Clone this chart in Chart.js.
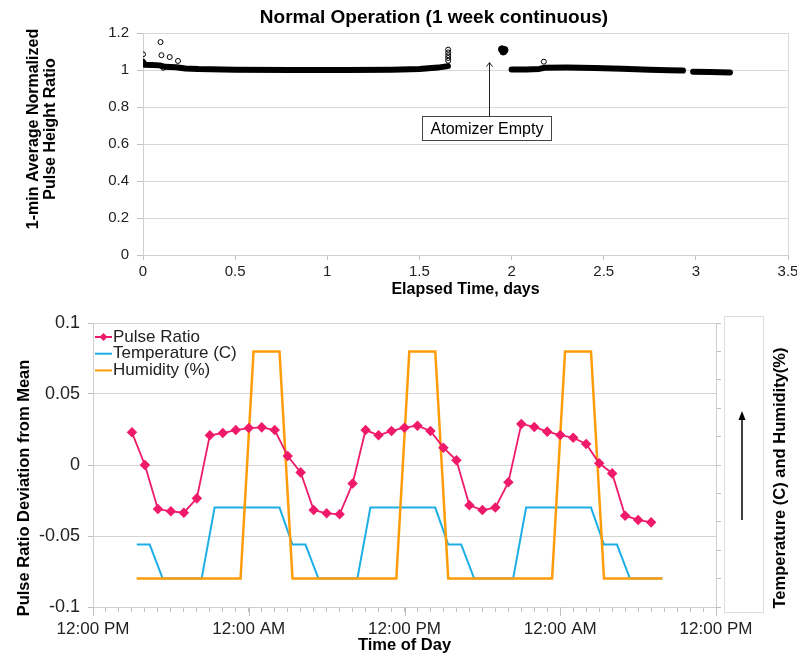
<!DOCTYPE html>
<html>
<head>
<meta charset="utf-8">
<script src="https://cdn.jsdelivr.net/npm/chart.js@4.4.0/dist/chart.umd.min.js"></script>
<style>
  body { margin: 0; background: #fff; }
  canvas { display: block; }
</style>
</head>
<body>
<canvas id="runChart" width="797" height="300"></canvas>
<canvas id="dayChart" width="797" height="354"></canvas>
<script>
Chart.defaults.font.family = '"Liberation Sans", Arial, sans-serif';
Chart.defaults.color = '#222';

// ---- top chart: 1-week run ----
const runDaysA = [0, 0.01, 0.05, 0.09, 0.12, 0.18, 0.23, 0.3, 0.5, 0.8, 1.1, 1.35, 1.5, 1.6, 1.655];
const runRatioA = [1.045, 1.028, 1.027, 1.025, 1.017, 1.015, 1.008, 1.005, 1.002, 1.0, 1.0, 1.002, 1.006, 1.013, 1.021];
const runDaysB = [2.0, 2.08, 2.15, 2.18, 2.3, 2.45, 2.6, 2.75, 2.85, 2.93];
const runRatioB = [1.003, 1.003, 1.006, 1.012, 1.013, 1.011, 1.007, 1.002, 0.999, 0.997];
const runDaysC = [2.985, 3.08, 3.185];
const runRatioC = [0.99, 0.989, 0.987];
const blobDays = [1.948, 1.955, 1.962];
const blobRatio = [1.112, 1.1, 1.108];
const outlierDays = [0.0, 0.095, 0.1, 0.11, 0.145, 0.19, 1.656, 1.656, 1.656, 1.656, 1.656, 2.175];
const outlierRatio = [1.085, 1.151, 1.08, 1.012, 1.07, 1.049, 1.05, 1.065, 1.08, 1.095, 1.11, 1.045];
const dayTicks = [0, 0.5, 1, 1.5, 2, 2.5, 3, 3.5];

// annotation "Atomizer Empty"
const emptyDay = 1.88;
const emptyTip = 1.04;
const emptyLabelAt = 0.68;

// ---- bottom chart: time of day ----
const pulseHours = [3, 4, 5, 6, 7, 8, 9, 10, 11, 12, 13, 14, 15, 16, 17, 18, 19, 20, 21, 22, 23,
  24, 25, 26, 27, 28, 29, 30, 31, 32, 33, 34, 35, 36, 37, 38, 39, 40, 41, 42, 43];
const pulseDev = [0.023, 0.0, -0.031, -0.0326, -0.0336, -0.0235, 0.0209, 0.0225, 0.0246, 0.026, 0.0265,
  0.0246, 0.0063, -0.0052, -0.0317, -0.034, -0.0347, -0.0131, 0.0246, 0.0209, 0.024,
  0.0263, 0.0277, 0.024, 0.0122, 0.0033, -0.0284, -0.0317, -0.030, -0.0122, 0.0289,
  0.0268, 0.0235, 0.0211, 0.0192, 0.0148, 0.0012, -0.0059, -0.0357, -0.0387, -0.0404];
const tempHours = [3.37, 4.37, 5.37, 8.37, 9.37, 14.37, 15.37, 16.37, 17.37, 20.37, 21.37,
  26.37, 27.37, 28.37, 29.37, 32.37, 33.37, 38.37, 39.37, 40.37, 41.37, 43.87];
const tempValues = [22, 22, 10, 10, 35, 35, 22, 22, 10, 10, 35, 35, 22, 22, 10, 10, 35, 35, 22, 22, 10, 10];
const humHours = [3.37, 11.37, 12.37, 14.37, 15.37, 23.37, 24.37, 26.37, 27.37, 35.37, 36.37, 38.37, 39.37, 43.87];
const humValues = [10, 10, 90, 90, 10, 10, 90, 90, 10, 10, 90, 90, 10, 10];
const majorHours = [0, 12, 24, 36, 48];

const PINK = '#ef1a6a';
const BLUE = '#1eaee6';
const ORANGE = '#ff9c0a';

const toXY = (xs, ys) => xs.map((x, i) => ({ x: x, y: ys[i] }));

function denseRun(xs, ys) {
    return {
        data: toXY(xs, ys),
        showLine: true,
        borderColor: '#000',
        borderWidth: 6,
        borderCapStyle: 'round',
        borderJoinStyle: 'round',
        pointRadius: 0
    };
}

function rotatedText(ctx, text, x, y, font) {
    ctx.save();
    ctx.translate(x, y);
    ctx.rotate(-Math.PI / 2);
    ctx.font = font;
    ctx.fillStyle = '#000';
    ctx.textAlign = 'center';
    ctx.textBaseline = 'middle';
    ctx.fillText(text, 0, 0);
    ctx.restore();
}

const runDecor = {
    id: 'runDecor',
    afterDraw(chart) {
        const ctx = chart.ctx;
        const xs = chart.scales.x, ys = chart.scales.y;

        ctx.save();
        ctx.fillStyle = '#000';
        ctx.font = 'bold 19px "Liberation Sans", Arial';
        ctx.textAlign = 'center';
        ctx.textBaseline = 'middle';
        ctx.fillText('Normal Operation (1 week continuous)', 434, 18);
        ctx.restore();

        rotatedText(ctx, '1-min Average Normalized', 34, 129, 'bold 16px "Liberation Sans", Arial');
        rotatedText(ctx, 'Pulse Height Ratio', 51, 129, 'bold 16px "Liberation Sans", Arial');

        // arrow + label box
        const ax = Math.round(xs.getPixelForValue(emptyDay)) + 0.5;
        const tipY = ys.getPixelForValue(emptyTip);
        const labY = ys.getPixelForValue(emptyLabelAt);
        ctx.save();
        ctx.font = '16px "Liberation Sans", Arial';
        const tw = ctx.measureText('Atomizer Empty').width;
        const bx = Math.round(ax - 3 - tw / 2 - 8) + 0.5;
        const bw = Math.round(tw + 16);
        const by = Math.round(labY - 13) + 0.5;
        ctx.fillStyle = '#fff';
        ctx.fillRect(bx, by, bw, 24);
        ctx.strokeStyle = '#444';
        ctx.lineWidth = 1;
        ctx.strokeRect(bx, by, bw, 24);
        ctx.fillStyle = '#000';
        ctx.textAlign = 'center';
        ctx.textBaseline = 'middle';
        ctx.fillText('Atomizer Empty', bx + bw / 2, by + 13);
        ctx.strokeStyle = '#222';
        ctx.beginPath();
        ctx.moveTo(ax, by);
        ctx.lineTo(ax, tipY);
        ctx.moveTo(ax - 3, tipY + 4);
        ctx.lineTo(ax, tipY);
        ctx.lineTo(ax + 3, tipY + 4);
        ctx.stroke();
        ctx.restore();
    }
};

new Chart(document.getElementById('runChart'), {
    type: 'scatter',
    data: {
        datasets: [
            denseRun(runDaysA, runRatioA),
            denseRun(runDaysB, runRatioB),
            denseRun(runDaysC, runRatioC),
            {
                data: toXY(blobDays, blobRatio),
                pointRadius: 3.5,
                backgroundColor: '#000',
                borderColor: '#000'
            },
            {
                data: toXY(outlierDays, outlierRatio),
                pointRadius: 2.5,
                borderWidth: 1,
                borderColor: '#000',
                backgroundColor: 'rgba(0,0,0,0)'
            }
        ]
    },
    options: {
        responsive: false,
        animation: false,
        layout: { padding: { top: 33, right: 9, left: 0, bottom: 0 } },
        plugins: { legend: { display: false }, tooltip: { enabled: false } },
        scales: {
            x: {
                type: 'linear',
                min: 0,
                max: 3.5,
                afterBuildTicks: (s) => { s.ticks = dayTicks.map(v => ({ value: v })); },
                ticks: { font: { size: 15 }, padding: 3, maxRotation: 0, callback: (v) => String(v) },
                grid: {
                    color: (c) => (c.tick && c.tick.value === 3.5 ? '#d9d9d9' : 'rgba(0,0,0,0)'),
                    tickColor: '#bfbfbf',
                    tickLength: 5
                },
                border: { color: '#cfcfcf' },
                title: {
                    display: true,
                    text: 'Elapsed Time, days',
                    color: '#000',
                    font: { size: 16, weight: 'bold', lineHeight: 1 },
                    padding: { top: 0, bottom: 2 }
                },
                afterFit: (s) => { s.height = 45; s.paddingLeft = 0; s.paddingRight = 0; }
            },
            y: {
                min: 0,
                max: 1.2,
                ticks: { stepSize: 0.2, font: { size: 15 }, padding: 8, callback: (v) => String(+v.toFixed(1)) },
                grid: { color: '#d9d9d9', tickColor: '#bfbfbf', tickLength: 6 },
                border: { color: '#cfcfcf' },
                afterFit: (s) => { s.width = 143; }
            }
        }
    },
    plugins: [runDecor]
});

const dayDecor = {
    id: 'dayDecor',
    afterDraw(chart) {
        const ctx = chart.ctx;
        const area = chart.chartArea;
        const xs = chart.scales.x;

        // longer tick marks at the labelled hours
        ctx.save();
        ctx.strokeStyle = '#bfbfbf';
        ctx.lineWidth = 1;
        ctx.beginPath();
        majorHours.forEach((h) => {
            const px = Math.round(xs.getPixelForValue(h)) + 0.5;
            ctx.moveTo(px, area.bottom);
            ctx.lineTo(px, area.bottom + 9);
        });
        ctx.stroke();
        ctx.restore();

        rotatedText(ctx, 'Pulse Ratio Deviation from Mean', 24, 188, 'bold 16.5px "Liberation Sans", Arial');

        // right box with arrow and secondary title
        ctx.save();
        ctx.fillStyle = '#fff';
        ctx.fillRect(724.5, 16.5, 39, 296);
        ctx.strokeStyle = '#dcdcdc';
        ctx.lineWidth = 1;
        ctx.strokeRect(724.5, 16.5, 39, 296);
        ctx.strokeStyle = '#000';
        ctx.lineWidth = 1.5;
        ctx.beginPath();
        ctx.moveTo(742, 220);
        ctx.lineTo(742, 118);
        ctx.stroke();
        ctx.fillStyle = '#000';
        ctx.beginPath();
        ctx.moveTo(742, 111);
        ctx.lineTo(738.5, 120);
        ctx.lineTo(745.5, 120);
        ctx.closePath();
        ctx.fill();
        ctx.restore();
        rotatedText(ctx, 'Temperature (C) and Humidity(%)', 780, 178, 'bold 16.5px "Liberation Sans", Arial');

        // legend in the top-left corner of the plot
        const order = [0, 2, 1];
        ctx.save();
        ctx.font = '17px "Liberation Sans", Arial';
        ctx.textBaseline = 'middle';
        order.forEach((di, row) => {
            const ds = chart.data.datasets[di];
            const y = area.top + 14 + row * 16.7;
            const x0 = area.left + 2, x1 = area.left + 19;
            ctx.strokeStyle = ds.borderColor;
            ctx.lineWidth = 2;
            ctx.beginPath();
            ctx.moveTo(x0, y);
            ctx.lineTo(x1, y);
            ctx.stroke();
            if (ds.pointStyle === 'rectRot') {
                const cx = (x0 + x1) / 2;
                ctx.fillStyle = ds.borderColor;
                ctx.beginPath();
                ctx.moveTo(cx, y - 4);
                ctx.lineTo(cx + 4, y);
                ctx.lineTo(cx, y + 4);
                ctx.lineTo(cx - 4, y);
                ctx.closePath();
                ctx.fill();
            }
            ctx.fillStyle = '#222';
            ctx.fillText(ds.label, x1 + 1, y);
        });
        ctx.restore();
    }
};

new Chart(document.getElementById('dayChart'), {
    type: 'scatter',
    data: {
        datasets: [
            {
                label: 'Pulse Ratio',
                data: toXY(pulseHours, pulseDev),
                showLine: true,
                yAxisID: 'y',
                borderColor: PINK,
                backgroundColor: PINK,
                borderWidth: 1.8,
                pointStyle: 'rectRot',
                pointRadius: 4
            },
            {
                label: 'Humidity (%)',
                data: toXY(humHours, humValues),
                showLine: true,
                yAxisID: 'y2',
                borderColor: ORANGE,
                borderWidth: 2.5,
                pointRadius: 0
            },
            {
                label: 'Temperature (C)',
                data: toXY(tempHours, tempValues),
                showLine: true,
                yAxisID: 'y2',
                borderColor: BLUE,
                borderWidth: 2,
                pointRadius: 0
            }
        ]
    },
    options: {
        responsive: false,
        animation: false,
        layout: { padding: { top: 23, right: 0, left: 0, bottom: 0 } },
        plugins: { legend: { display: false }, tooltip: { enabled: false } },
        scales: {
            x: {
                type: 'linear',
                min: 0,
                max: 48,
                ticks: {
                    stepSize: 1,
                    autoSkip: false,
                    maxRotation: 0,
                    font: { size: 17 },
                    padding: 7,
                    callback: (v) => (v % 24 === 0 ? '12:00 PM' : (v % 24 === 12 ? '12:00 AM' : ''))
                },
                grid: { drawOnChartArea: false, tickLength: 5, tickColor: '#bfbfbf' },
                border: { color: '#cfcfcf' },
                title: {
                    display: true,
                    text: 'Time of Day',
                    color: '#000',
                    font: { size: 16.5, weight: 'bold', lineHeight: 1 },
                    padding: { top: 0, bottom: 0 }
                },
                afterFit: (s) => { s.height = 47; }
            },
            y: {
                position: 'left',
                min: -0.1,
                max: 0.1,
                ticks: { stepSize: 0.05, font: { size: 18 }, padding: 8, callback: (v) => String(+v.toFixed(2)) },
                grid: { color: '#d4d4d4', tickLength: 5, tickColor: '#bfbfbf' },
                border: { color: '#cfcfcf' },
                afterFit: (s) => { s.width = 93; }
            },
            y2: {
                position: 'right',
                min: 0,
                max: 100,
                ticks: { stepSize: 10, display: false },
                grid: { drawOnChartArea: false, tickLength: 5, tickColor: '#bfbfbf' },
                border: { color: '#cfcfcf' },
                afterFit: (s) => { s.width = 81; }
            }
        }
    },
    plugins: [dayDecor]
});
</script>
</body>
</html>
